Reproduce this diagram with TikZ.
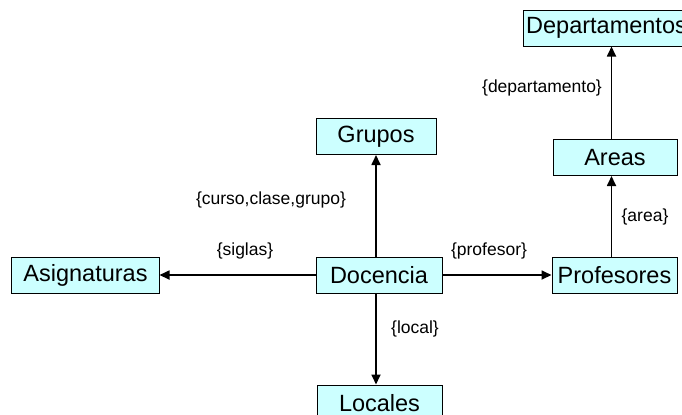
\documentclass[tikz,border=0pt]{standalone}
\usepackage{fontspec}
\setmainfont{Liberation Sans}
\usetikzlibrary{arrows.meta}
\definecolor{boxfill}{HTML}{CCFFFF}
\tikzset{
  entity/.style={draw=black, line width=1bp, fill=boxfill, inner sep=0pt,
    minimum height=36bp, font=\fontsize{23.5bp}{28bp}\selectfont},
  rel/.style={line width=1.7bp, -{Triangle[length=10bp,width=9bp]}},
  lbl/.style={inner sep=0pt, font=\fontsize{17.5bp}{21bp}\selectfont}
}
\begin{document}
\begin{tikzpicture}[x=1bp,y=-1bp]
\useasboundingbox (0,0) rectangle (682,414);
\node[entity, minimum width=167bp] (dep) at (606.5,28) {Departamentos};
\node[entity, minimum width=124bp] (areas) at (615,157.5) {Areas};
\node[entity, minimum width=125bp] (prof) at (614.5,275) {Profesores};
\node[entity, minimum width=126bp] (doc) at (379,275) {Docencia};
\node[entity, minimum width=120bp] (grupos) at (376,136.5) {Grupos};
\node[entity, minimum width=147bp] (asig) at (85.5,275) {Asignaturas};
\node[entity, minimum width=125bp] (loc) at (379.5,403) {Locales};

\coordinate (dx) at (376,0);
\coordinate (px) at (611.5,0);

\draw[rel] (doc.west) -- (asig.east);
\draw[rel] (doc.east) -- (prof.west);
\draw[rel] (doc.north -| dx) -- (grupos.south -| dx);
\draw[rel] (doc.south -| dx) -- (loc.north -| dx);
\draw[rel] (prof.north -| px) -- (areas.south -| px);
\draw[rel] (areas.north -| px) -- (dep.south -| px);

\node[lbl] (l1) at (542,88) {\{departamento\}};
\node[lbl] (l2) at (645,217) {\{area\}};
\node[lbl] (l3) at (271,200) {\{curso,clase,grupo\}};
\node[lbl] (l4) at (245,251) {\{siglas\}};
\node[lbl] (l5) at (489,251) {\{profesor\}};
\node[lbl] (l6) at (415,328.5) {\{local\}};
\end{tikzpicture}
\end{document}
